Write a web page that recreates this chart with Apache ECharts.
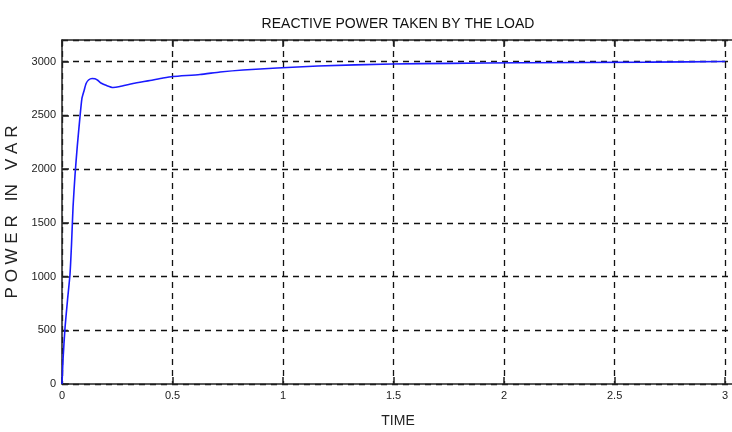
<!DOCTYPE html>
<html>
<head>
<meta charset="utf-8">
<script src="https://cdn.jsdelivr.net/npm/echarts@6/dist/echarts.min.js"></script>
<style>
  html, body { margin: 0; padding: 0; background: #fff; }
  #chart { width: 732px; height: 432px; }
</style>
</head>
<body>
<div id="chart"></div>
<script>
// Simulated reactive power drawn by the load (time in s, power in VAR)
const timeValues = [0, 0.0045, 0.0136, 0.025, 0.036, 0.043, 0.050, 0.059, 0.069, 0.081,
  0.090, 0.100, 0.109, 0.120, 0.136, 0.149, 0.163, 0.176, 0.202, 0.231, 0.262, 0.321,
  0.398, 0.457, 0.502, 0.624, 0.715, 0.819, 0.973, 1.158, 1.493, 1.756, 2.072, 2.656, 3.0];
const powerValues = [0, 224, 522, 783, 1016, 1295, 1649, 1947, 2208, 2478,
  2655, 2730, 2795, 2828, 2842, 2839, 2823, 2800, 2776, 2758, 2767, 2795,
  2823, 2846, 2860, 2879, 2902, 2921, 2939, 2958, 2977, 2983, 2988, 2994, 3000];
const xTicks = [0, 0.5, 1, 1.5, 2, 2.5, 3];
const yTicks = [0, 500, 1000, 1500, 2000, 2500, 3000];

const titleText = 'REACTIVE POWER TAKEN BY THE LOAD';
const xName = 'TIME';
const yName = 'P O W E R   IN   V A R';

const FONT = "'Liberation Sans Narrow', 'Liberation Sans', Arial, sans-serif";
const gridDash = { color: '#111', width: 1.3, type: [6, 5] };

const chart = echarts.init(document.getElementById('chart'), null, { renderer: 'canvas' });
chart.setOption({
  animation: false,
  backgroundColor: '#fff',
  title: {
    text: titleText,
    left: 393, top: 12, textAlign: 'center',
    textStyle: { fontFamily: FONT, fontSize: 14, fontWeight: 'normal', color: '#111' }
  },
  // plot frame runs past the right edge of the canvas
  grid: { left: 62, right: -2, top: 40, bottom: 48, outerBoundsMode: 'none', containLabel: false },
  xAxis: [{
    type: 'value', min: 0, max: 3.04, interval: 0.5,
    name: xName, nameLocation: 'middle', nameGap: 30,
    nameTextStyle: { fontFamily: FONT, fontSize: 14, color: '#222' },
    axisLine: { lineStyle: { color: '#222', width: 1.5 } },
    axisTick: { inside: true, length: 7, lineStyle: { color: '#222', width: 1.5 } },
    axisLabel: {
      fontFamily: FONT, fontSize: 11, color: '#222', margin: 6, showMaxLabel: false,
      formatter: v => xTicks.includes(v) ? String(v) : ''
    },
    splitLine: { show: true, lineStyle: gridDash }
  }, {
    type: 'value', min: 0, max: 3.04, interval: 0.5, position: 'top',
    axisLine: { show: true, lineStyle: { color: '#222', width: 1.5 } },
    axisTick: { show: true, inside: true, length: 7, lineStyle: { color: '#222', width: 1.5 } },
    axisLabel: { show: false },
    splitLine: { show: false }
  }],
  yAxis: {
    type: 'value', min: 0, max: 3200, interval: 500,
    name: yName, nameLocation: 'middle', nameGap: 35,
    nameTextStyle: { fontFamily: FONT, fontSize: 17, color: '#222' },
    axisLine: { show: true, lineStyle: { color: '#222', width: 1.5 } },
    axisTick: { show: true, inside: true, length: 7, lineStyle: { color: '#222', width: 1.5 } },
    axisLabel: {
      fontFamily: FONT, fontSize: 11, color: '#222', margin: 6, showMaxLabel: false,
      formatter: v => yTicks.includes(v) ? String(v) : ''
    },
    splitLine: { show: true, lineStyle: gridDash }
  },
  series: [{
    type: 'line',
    xAxisIndex: 0,
    data: timeValues.map((t, i) => [t, powerValues[i]]),
    showSymbol: false,
    smooth: 0.2,
    lineStyle: { color: '#1a1aff', width: 1.6 },
    z: 5
  }]
});
</script>
</body>
</html>
